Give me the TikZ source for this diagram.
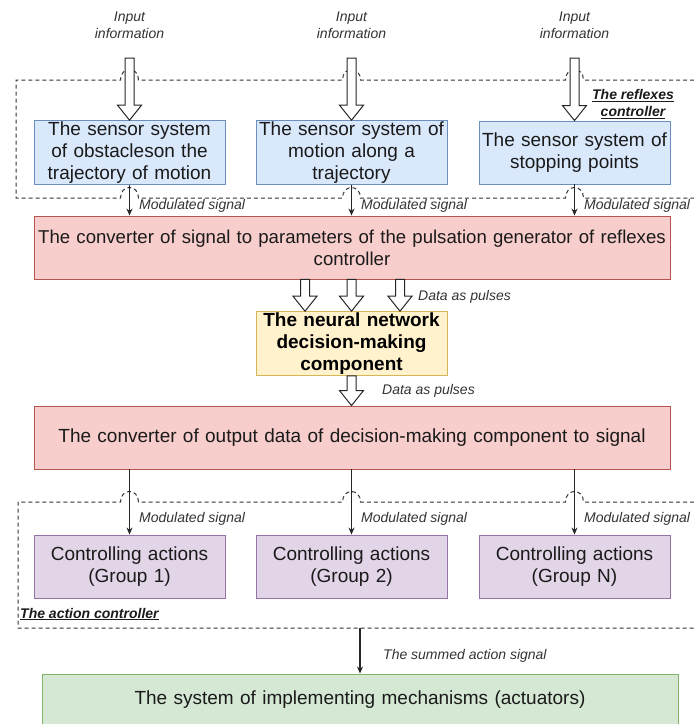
\documentclass[tikz,border=0pt]{standalone}
\usepackage{fontspec}
\setmainfont{Liberation Sans}
\usetikzlibrary{arrows.meta,calc}
\definecolor{bluefill}{HTML}{DAE8FC}\definecolor{bluedraw}{HTML}{6C8EBF}
\definecolor{redfill}{HTML}{F8CECC}\definecolor{reddraw}{HTML}{B85450}
\definecolor{yelfill}{HTML}{FFF2CC}\definecolor{yeldraw}{HTML}{D6B656}
\definecolor{purfill}{HTML}{E1D5E7}\definecolor{purdraw}{HTML}{9673A6}
\definecolor{grnfill}{HTML}{D5E8D4}\definecolor{grndraw}{HTML}{82B366}
\definecolor{txt}{HTML}{1A1A1A}
\definecolor{lbltxt}{HTML}{333333}
\newcommand\harrow[3]{%
  \draw[hollow] let \p1=(#2), \p2=(#3) in
  (#1pt-4.5pt,\y1) -- (#1pt+4.5pt,\y1) -- (#1pt+4.5pt,\y2+15pt) -- (#1pt+12pt,\y2+15pt)
  -- (#1pt,\y2) -- (#1pt-12pt,\y2+15pt) -- (#1pt-4.5pt,\y2+15pt) -- cycle;}
\begin{document}
\begin{tikzpicture}[x=1pt,y=-1pt,
  boxbase/.style={rectangle, inner xsep=2pt, inner ysep=1pt, minimum height=63pt, align=center,
    font=\fontsize{19}{22}\selectfont, text=txt, line width=0.9pt},
  sensorbox/.style={boxbase, fill=bluefill, draw=bluedraw, text width=187pt},
  convbox/.style={boxbase, fill=redfill, draw=reddraw, text width=632pt},
  nnbox/.style={boxbase, fill=yelfill, draw=yeldraw, text width=187pt, font=\fontsize{19}{22}\selectfont\bfseries, text=black},
  actbox/.style={boxbase, fill=purfill, draw=purdraw, text width=187pt},
  mechbox/.style={boxbase, fill=grnfill, draw=grndraw, text width=632pt, minimum height=52pt},
  lbl/.style={font=\fontsize{14}{17}\selectfont\itshape, text=lbltxt, inner sep=0pt, align=center},
  ctrllbl/.style={font=\fontsize{14}{17}\selectfont\bfseries\itshape, text=txt, inner sep=0pt, align=center},
  sig/.style={line width=1.1pt, draw=black!85, -{Stealth[length=7pt,width=6pt]}},
  hollow/.style={draw=black!85, fill=white, line width=1pt, line join=miter},
  ctrlline/.style={draw=black!80, line width=1pt, dash pattern=on 4pt off 3pt}]
\useasboundingbox (0,0) rectangle (694,724);

% input labels
\node[lbl] (i1) at (129.5,25) {Input\\information};
\node[lbl] (i2) at (351.5,25) {Input\\information};
\node[lbl] (i3) at (574.5,25) {Input\\information};
\coordinate (i1s) at (129.5,58);
\coordinate (i2s) at (351.5,58);
\coordinate (i3s) at (574.5,58);

% sensor boxes
\node[sensorbox] (s1) at (129.5,152.5) {The sensor system\\of obstacleson the\\trajectory of motion};
\node[sensorbox] (s2) at (351.5,152.5) {The sensor system of\\motion along a\\trajectory};
\node[sensorbox] (s3) at (574.5,152.5) {The sensor system of\\stopping points};

% converters and neural network
\node[convbox, font=\fontsize{18.6}{22}\selectfont] (r1) at (352,247.5) {\makebox[632pt][c]{The converter of signal to parameters of the pulsation generator of reflexes}\\controller};
\node[nnbox] (nn) at (351.5,343.5) {The neural network\\decision-making\\component};
\node[convbox] (r2) at (352,437.5) {The converter of output data of decision-making component to signal};

% action boxes
\node[actbox] (a1) at (129.5,566.5) {Controlling actions\\(Group 1)};
\node[actbox] (a2) at (351.5,566.5) {Controlling actions\\(Group 2)};
\node[actbox] (a3) at (574.5,566.5) {Controlling actions\\(Group N)};

% actuators
\node[mechbox] (g) at (360,700) {The system of implementing mechanisms (actuators)};

% dashed controllers
\draw[ctrlline] (694,80) -- (583.5,80) .. controls (583.5,66) and (565.5,66) .. (565.5,80)
  -- (360.5,80) .. controls (360.5,66) and (342.5,66) .. (342.5,80)
  -- (138.5,80) .. controls (138.5,66) and (120.5,66) .. (120.5,80)
  -- (16,80) -- (16,198) -- (120.5,198) .. controls (120.5,184) and (138.5,184) .. (138.5,198)
  -- (342.5,198) .. controls (342.5,184) and (360.5,184) .. (360.5,198)
  -- (565.5,198) .. controls (565.5,184) and (583.5,184) .. (583.5,198) -- (694,198);
\draw[ctrlline] (694,502) -- (583.5,502) .. controls (583.5,488) and (565.5,488) .. (565.5,502)
  -- (360.5,502) .. controls (360.5,488) and (342.5,488) .. (342.5,502)
  -- (138.5,502) .. controls (138.5,488) and (120.5,488) .. (120.5,502)
  -- (18,502) -- (18,628) -- (694,628);
\node[ctrllbl] (rc) at (633,104) {\underline{The reflexes}\\\underline{controller}};
\node[ctrllbl, anchor=west] (ac) at (20,614) {\underline{The action controller}};

% hollow arrows
\harrow{129.5}{i1s}{s1.north}
\harrow{351.5}{i2s}{s2.north}
\harrow{574.5}{i3s}{s3.north}
\harrow{305}{r1.south}{nn.north}
\harrow{351.5}{r1.south}{nn.north}
\harrow{400}{r1.south}{nn.north}
\harrow{351.5}{nn.south}{r2.north}

% signal arrows
\draw[sig] (s1.south) -- (s1.south |- r1.north);
\draw[sig] (s2.south) -- (s2.south |- r1.north);
\draw[sig] (s3.south) -- (s3.south |- r1.north);
\draw[sig] (r2.south -| a1.north) -- (a1.north);
\draw[sig] (r2.south -| a2.north) -- (a2.north);
\draw[sig] (r2.south -| a3.north) -- (a3.north);
\coordinate (acb) at (360,628);
\draw[sig] (acb) -- (acb |- g.north);

% labels
\node[lbl, anchor=west] (m1) at (139,206) {Modulated signal};
\node[lbl, anchor=west] (m2) at (361,206) {Modulated signal};
\node[lbl, anchor=west] (m3) at (584,206) {Modulated signal};
\node[lbl, anchor=west] (d1) at (418,297) {Data as pulses};
\node[lbl, anchor=west] (d2) at (382,391) {Data as pulses};
\node[lbl, anchor=west] (m4) at (139,519) {Modulated signal};
\node[lbl, anchor=west] (m5) at (361,519) {Modulated signal};
\node[lbl, anchor=west] (m6) at (584,519) {Modulated signal};
\node[lbl, anchor=west] (sa) at (383,656) {The summed action signal};
\end{tikzpicture}
\end{document}
